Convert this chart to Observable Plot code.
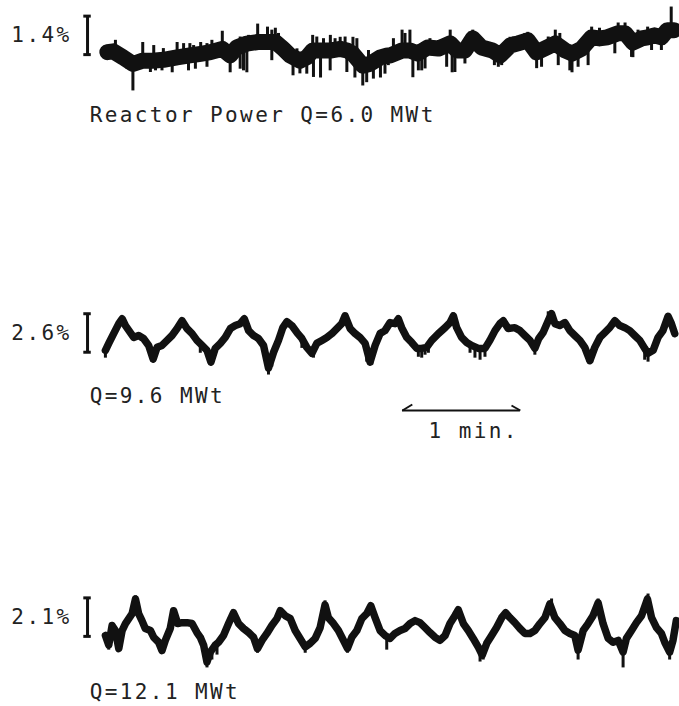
<!DOCTYPE html>
<html><head><meta charset="utf-8">
<script src="https://cdn.jsdelivr.net/npm/d3@7"></script>
<script src="https://cdn.jsdelivr.net/npm/@observablehq/plot@0.6"></script>
<style>
html,body{margin:0;padding:0;background:#fff;}
#fig{position:relative;width:679px;height:706px;overflow:hidden;background:#fff;}
</style></head><body><div id="fig"></div>
<script>
// ---------------- data ----------------
// time in seconds from the start of each record; values in % of power
const scalePct = [1.4, 2.6, 2.1];
const captions = ["Reactor Power Q=6.0 MWt", "Q=9.6 MWt", "Q=12.1 MWt"];
const timeMarkLabel = "1 min.";
const timeMarkSeconds = 60;

// Q = 6.0 MWt : mean line of the noisy band
const topT = [1,4,9,14,19,24,29.5,36.5,43,48.5,53.5,59.5,63.5,67,72,77.5,82.5,86.5,90.5,94,99,102.5,105.5,109.5,114.5,119.5,123,126,131,134.5,140,143.5,145,151,155,159,164,169.5,175.5,179,183,187,191.5,197,201,206,210,215,219.5,223.5,229,234,237.5,242.5,247.5,251.5,255.5,261,264.5,268.5,273,276,279.5,283,286,289.5];
const topV = [-0.06,-0.03,-0.25,-0.49,-0.37,-0.37,-0.34,-0.25,-0.18,-0.12,-0.06,0.06,-0.18,0.12,0.25,0.31,0.31,0.31,0.06,-0.18,-0.37,-0.25,0,0,0,0.06,0,-0.12,-0.55,-0.49,-0.25,-0.18,-0.18,0,0,-0.11,0.11,0.07,0.26,0,0,0.44,0.11,0,-0.18,0.18,0.26,0.37,-0.07,0.07,0.26,0,-0.11,0.07,0.48,0.44,0.48,0.63,0.63,0.29,0.44,0.48,0.55,0.48,0.74,0.74];
// noise spikes on the Q = 6.0 MWt record (time, tip, base)
const topSpikeT = [14,19,25.5,29.5,34,36.5,43,48.5,59.5,63.5,72,77.5,82.5,86.5,95.5,99,105.5,109.5,114.5,119.5,126,127,131,140,151,155,156.5,161,175.5,176.5,187,198,206,215,219.5,229,237.5,247.5,251.5,261,264.5,268.5,276,283,288,
  5.1,24.6,39.8,44.9,51.7,54.2,68.6,72.9,84.7,88.1,97.5,107.6,111,116.9,122,128,133.9,141.5,
  11,22.9,28.8,42.3,45.8,51.7,68.6,70.3,84.7,102.5,105.9,114.4,122.9,133,136.4,142.3,
  146.6,152.5,165.2,170.3,185.6,193.2,207.6,213.5,225.4,231.3,244,257.6,271.1,278,284.7,
  144,159.3,162.7,173.7,177.9,183,200,201.7,222,230.5,236.4,240.6,245.7,259.3,267.8,278];
const topSpikeTip = [-1.47,0.29,-0.74,0.07,-0.81,0.29,0.25,0.29,0.7,-0.81,-0.81,0.96,0.85,0.81,-0.92,-0.85,0.55,-1.0,0.55,0.48,0.48,-1.0,-1.29,-1.0,0.74,0.74,-0.99,-0.74,0.74,-0.81,0.74,-0.55,0.48,0.66,-0.66,0.74,-0.81,0.85,0.81,1.0,1.0,-0.26,0.85,0,1.58,
  0.37,0.18,0.25,0.18,0.25,0.37,0.49,0.55,0.74,0.62,0.06,0.49,0.43,0.43,0.49,0.43,0,0,
  -0.68,-0.8,-0.74,-0.74,-0.68,-0.61,-0.68,-0.74,-0.37,-0.86,-0.98,-0.74,-0.8,-1.17,-1.04,-0.86,
  0.43,0.62,0.43,0.37,0.67,0.31,0.49,0.62,0.49,0.62,0.37,0.8,0.74,0.74,0.92,
  -0.55,-0.74,-0.67,-0.61,-0.8,-0.49,-0.61,-0.55,-0.61,-0.55,-0.74,-0.61,-0.55,-0.12,-0.25,0];
const topSpikeBase = [-0.49,-0.37,-0.37,-0.34,-0.25,-0.25,-0.18,-0.12,0.06,-0.18,0.25,0.31,0.31,0.31,-0.18,-0.37,0,0,0,0.06,-0.12,-0.12,-0.55,-0.25,0,0,-0.05,-0.1,0.26,0.1,0.44,-0.1,0.18,0.37,-0.07,0.26,-0.11,0.48,0.44,0.63,0.63,0.29,0.48,0.48,0.74,
  -0.05,-0.37,-0.2,-0.18,-0.1,-0.06,0.12,0.25,0.31,0.2,-0.37,0,0,0,0,-0.3,-0.5,-0.2,
  -0.35,-0.37,-0.34,-0.18,-0.15,-0.1,0.1,0.15,0.31,-0.25,0,0,0,-0.5,-0.4,-0.18,
  -0.1,0,0.1,0.07,0.3,0.05,0.2,0.35,0.1,0.15,0.1,0.5,0.4,0.5,0.55,
  -0.18,-0.11,0,0.15,0,0,-0.18,-0.18,0,0.15,-0.1,0,0.2,0.55,0.3,0.5];

// Q = 9.6 MWt
const midT = [0,1.7,4.2,6.8,8.5,10.2,12.7,14.4,16.9,19.4,22.0,24.3,26.3,28.8,31.4,33.9,36.5,39.0,41.5,44.1,46.6,49.2,51.7,53.7,55.9,58.5,61.0,63.6,66.1,68.6,70.7,72.9,75.4,77.9,80.5,83.0,85.6,88.1,90.3,92.4,94.9,97.5,100.0,102.5,105.1,107.6,110.2,112.7,115.3,117.8,120.3,122.0,124.6,127.1,129.6,132.2,134.7,137.3,139.8,
  142.3,144.9,147.4,149.1,150.8,153.4,155.9,158.5,161.0,163.5,166.1,169.5,172.9,175.4,177.1,178.8,181.3,183.9,186.4,189.8,193.2,195.7,198.3,200.8,202.5,205.0,208.4,211.0,213.5,216.1,218.6,220.6,222.8,225.4,227.1,228.8,231.3,233.9,236.4,238.9,241.5,244.0,246.6,249.1,251.7,254.2,256.7,259.3,261.8,264.4,266.9,269.4,272.0,274.5,276.2,278.8,281.3,283.8,286.4,288.1,289.8];
const midV = [-1.0,-0.53,0.13,0.8,1.13,0.67,0.2,-0.13,0,-0.2,-0.67,-1.6,-0.8,-0.67,-0.33,0,0.47,1.0,0.47,0.13,-0.33,-0.67,-1.0,-1.8,-0.87,-0.53,-0.13,0.47,0.67,0.8,1.13,0.33,0,-0.2,-0.67,-2.2,-1.13,-0.33,0.53,0.93,0.67,0.2,-0.2,-0.8,-1.2,-0.53,-0.33,-0.13,0.13,0.47,0.8,1.33,0.47,0.13,-0.13,-0.53,-1.8,-0.67,0.13,
  0.33,0.87,0.8,1.13,0.53,-0.13,-0.47,-0.87,-0.87,-0.8,-0.33,0.13,0.53,0.87,1.33,0.53,-0.13,-0.47,-0.67,-0.87,-0.87,-0.33,0.33,0.8,1.0,0.47,0.53,0.33,0,-0.33,-0.87,-0.2,0.2,1.0,1.47,0.8,0.67,0.87,0.33,0,-0.33,-0.8,-1.7,-0.8,-0.13,0.2,0.53,1.0,0.67,0.53,0.33,0,-0.33,-0.87,-1.2,-1.0,-0.13,0.33,1.3,0.8,0.13];
const midSpikeT = [0,23.7,25.4,48.3,53.4,83,84.7,100,105.9,133,135.6,149.1,159.3,161.0,162.7,164.4,177.1,185.6,188.1,190.7,193.2,218.6,225.4,227.1,245.7,247.5,274.5,276.2];
const midSpikeTip = [-1.53,-1.8,-1.53,-1.2,-1.87,-2.67,-2.13,-0.87,-1.53,-1.8,-2.0,1.33,-1.47,-1.53,-1.33,-1.2,1.53,-1.2,-1.53,-1.67,-1.47,-1.33,1.6,1.67,-1.8,-1.87,-1.67,-1.8];
const midSpikeBase = [-1.0,-1.33,-1.0,-0.6,-1.5,-2.0,-1.3,-0.2,-1.0,-1.0,-1.2,1.0,-0.87,-0.87,-0.8,-0.8,1.1,-0.6,-0.8,-0.87,-0.87,-0.87,1.1,1.2,-1.3,-1.5,-0.9,-1.2];

// Q = 12.1 MWt
const botT = [0,1.7,3.4,5.1,6.8,8.5,10.2,11.9,13.6,15.3,16.9,18.6,20.3,22.9,24.6,27.1,28.8,30.5,33.0,34.7,36.8,39.0,41.5,44.1,46.6,48.3,50.0,51.7,53.4,55.9,57.6,60.1,62.7,65.2,67.8,70.3,72.9,75.4,77.4,79.7,82.2,84.7,87.3,89.0,91.5,94.1,96.6,99.1,101.7,104.2,106.8,109.3,111.8,113.5,116.1,118.6,121.2,123.2,125.4,128.0,130.5,133.0,135.1,137.3,139.8,142.3,
  144.9,147.4,150.0,152.5,155.1,157.6,160.1,162.7,165.2,167.8,170.3,172.9,175.4,177.9,179.6,182.2,184.7,187.2,189.8,191.8,194.1,196.6,199.1,201.7,203.7,205.9,208.4,211.0,213.5,216.1,218.6,221.2,223.7,226.2,228.8,231.3,233.9,236.4,238.9,240.6,243.2,245.7,248.2,250.8,253.3,255.9,258.4,261.0,263.5,265.2,267.8,270.3,272.9,275.9,278.0,280.5,283.0,284.7,287.2,288.9,290.6];
const botV = [-0.38,-0.9,0.16,-0.11,-1.1,-0.11,0.27,0.54,0.81,1.61,0.81,0.43,0,-0.11,-0.48,-0.75,-1.2,-0.65,0,0.97,0.27,0.32,0.32,0.27,-0.22,-0.48,-0.91,-1.83,-1.29,-0.91,-0.75,-0.38,0.27,0.86,0.27,0,-0.22,-0.48,-1.1,-0.65,-0.27,0.16,0.54,0.97,0.7,0.54,-0.11,-0.54,-1.0,-0.81,-0.54,0.05,1.29,0.59,0.27,-0.11,-0.65,-1.08,-0.48,-0.11,0.54,0.81,1.24,0.59,-0.11,-0.38,
  -0.54,-0.27,-0.11,0,0.27,0.43,0.32,0.05,-0.22,-0.48,-0.65,-0.38,0.27,0.7,1.02,0.27,-0.11,-0.54,-1.02,-1.45,-0.81,-0.38,0.05,0.59,0.86,0.59,0.32,0,-0.27,-0.27,-0.11,0.27,0.59,1.34,0.59,0.27,-0.11,-0.27,-0.38,-1.18,-0.11,0.27,0.7,1.4,0.27,-0.54,-0.75,-0.65,-1.29,-0.54,-0.11,0.32,0.7,1.61,0.59,0.05,-0.27,-0.75,-1.29,-0.65,0.43];
const botSpikeT = [1.7,6.8,15.3,28.8,51.7,54.2,56.8,77.4,101.7,111.8,123.2,135.1,143.2,190.7,192.3,227.1,240.6,250.8,263.5,276.2,287.2];
const botSpikeTip = [-1.18,-1.29,1.78,-1.35,-2.15,-1.72,-1.45,-1.35,-1.35,1.51,-1.35,1.35,-1.18,-1.83,-1.72,1.61,-1.72,1.61,-2.15,1.88,-1.72];
const botSpikeBase = [-0.6,-0.8,1.3,-1.0,-1.6,-1.2,-0.9,-0.9,-0.9,1.1,-0.9,1.0,-0.5,-1.2,-1.2,1.1,-1.0,1.2,-1.2,1.4,-1.1];

// ---------------- layout / style ----------------
const INK = "#111";
const FONT = "DejaVu Sans Mono";
const W = 679;
const X_DOMAIN = [-53.4, 291.2];   // seconds; record starts at 0
const BAR_PX = 38.5;               // printed length of every amplitude scale bar
const BAR_T = -9.1;                // time position of the scale bars
const CAP_T = -8;                  // caption start
const fig = document.getElementById("fig");

function rows(t, v) { return t.map((d, i) => ({t: d, v: v[i]})); }
function spikeRows(t, tip, base) { return t.map((d, i) => ({t: d, tip: tip[i], base: base[i]})); }

function panel({top, height, zero, pct, barLow, data, lineWidth, spikes, spikeWidth, caption, capDy, extra}) {
  const k = BAR_PX / pct; // px per %
  const marks = [];
  if (spikes) marks.push(Plot.ruleX(spikes, {x: "t", y1: "base", y2: "tip", stroke: INK, strokeWidth: spikeWidth}));
  marks.push(Plot.line(data, {x: "t", y: "v", stroke: INK, strokeWidth: lineWidth, strokeLinejoin: "round", strokeLinecap: "round"}));
  // amplitude scale bar
  marks.push(Plot.ruleX([BAR_T], {y1: barLow, y2: barLow + pct, stroke: INK, strokeWidth: 3}));
  marks.push(Plot.ruleY([barLow, barLow + pct], {x1: BAR_T - 1.9, x2: BAR_T + 1.9, stroke: INK, strokeWidth: 3}));
  marks.push(Plot.text([`${pct}%`], {x: BAR_T, y: barLow + pct / 2, text: d => d, textAnchor: "end", lineAnchor: "middle", dx: -16, fontFamily: FONT, fontSize: 21, fill: "#222"}));
  marks.push(Plot.text([caption], {x: CAP_T, y: 0, dy: capDy, text: d => d, textAnchor: "start", lineAnchor: "top", fontFamily: FONT, fontSize: 21, fill: "#222"}));
  if (extra) marks.push(...extra(k));
  const svg = Plot.plot({
    width: W, height,
    marginLeft: 0, marginRight: 2, marginTop: 0, marginBottom: 0,
    x: {domain: X_DOMAIN, axis: null},
    y: {domain: [-(height - zero) / k, zero / k], axis: null},
    style: {background: "transparent", letterSpacing: "2.4px", overflow: "visible"},
    marks
  });
  svg.style.position = "absolute";
  svg.style.top = top + "px";
  svg.style.left = "0px";
  fig.appendChild(svg);
}

panel({top: 0, height: 150, zero: 50, pct: scalePct[0], barLow: -0.15,
  data: rows(topT, topV), lineWidth: 16,
  spikes: spikeRows(topSpikeT, topSpikeTip, topSpikeBase), spikeWidth: 3,
  caption: captions[0], capDy: 57});

panel({top: 290, height: 160, zero: 45, pct: scalePct[1], barLow: -1.13,
  data: rows(midT, midV), lineWidth: 7.5,
  spikes: spikeRows(midSpikeT, midSpikeTip, midSpikeBase), spikeWidth: 3,
  caption: captions[1], capDy: 53,
  extra: (k) => {
    const t0 = 151.2, y = -75 / k, t1 = t0 + timeMarkSeconds;
    return [
      Plot.ruleY([y], {x1: t0, x2: t1, stroke: INK, strokeWidth: 2}),
      Plot.link([{a: t0, b: t0 + 5, y1: y, y2: y + 6 / k}, {a: t1, b: t1 - 4.5, y1: y, y2: y + 5 / k}],
        {x1: "a", x2: "b", y1: "y1", y2: "y2", stroke: INK, strokeWidth: 2}),
      Plot.text([timeMarkLabel], {x: 164.5, y: -88 / k, text: d => d, textAnchor: "start", lineAnchor: "top", fontFamily: FONT, fontSize: 21, fill: "#222"})
    ];
  }});

panel({top: 570, height: 136, zero: 58, pct: scalePct[2], barLow: -0.43,
  data: rows(botT, botV), lineWidth: 7.5,
  spikes: spikeRows(botSpikeT, botSpikeTip, botSpikeBase), spikeWidth: 3,
  caption: captions[2], capDy: 56});
</script></body></html>
